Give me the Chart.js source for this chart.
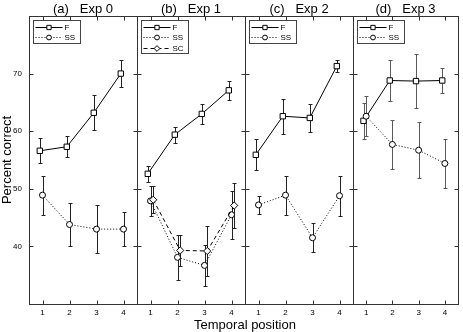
<!DOCTYPE html>
<html><head><meta charset="utf-8">
<script src="https://cdn.jsdelivr.net/npm/chart.js@4.4.1/dist/chart.umd.min.js"></script>
<style>
html,body{margin:0;padding:0;background:#fff;}
#wrap{position:relative;width:463px;height:332px;overflow:hidden;background:#fff;}
#wrap canvas{position:absolute;left:0;top:0;}
#xtitle{position:absolute;left:145px;width:200px;top:317px;text-align:center;font:13px "Liberation Sans",Arial,sans-serif;color:#000;line-height:16px;}
</style></head><body>
<div id="wrap">
<canvas id="c0" width="463" height="332"></canvas>
<canvas id="c1" width="463" height="332"></canvas>
<canvas id="c2" width="463" height="332"></canvas>
<canvas id="c3" width="463" height="332"></canvas>
<div id="xtitle">Temporal position</div>
</div>
<script>
// ---- data ----
const positions = [1, 2, 3, 4];
const yTickValues = [40, 50, 60, 70];
const panelTitles = ['(a)   Exp 0', '(b)   Exp 1', '(c)   Exp 2', '(d)   Exp 3'];
const seriesNames = ['F', 'SS', 'SC'];

const exp0F = [56.6, 57.3, 63.2, 70.0];
const exp0FErr = [2.2, 1.8, 3.05, 2.35];
const exp0SS = [48.9, 43.8, 43.0, 43.0];
const exp0SSErr = [3.4, 3.7, 4.2, 2.9];

const exp1F = [52.6, 59.4, 63.0, 67.1];
const exp1FErr = [1.4, 1.4, 1.8, 1.65];
const exp1SS = [47.9, 38.1, 36.7, 45.5];
const exp1SSErr = [2.6, 3.9, 3.5, 4.2];
const exp1SC = [48.1, 39.3, 39.2, 47.1];
const exp1SCErr = [2.3, 2.7, 4.4, 3.9];

const exp2F = [55.9, 62.6, 62.3, 71.3];
const exp2FErr = [2.7, 3.05, 2.5, 1.1];
const exp2SS = [47.2, 48.9, 41.5, 48.8];
const exp2SSErr = [1.5, 3.4, 2.5, 3.5];

const exp3F = [61.8, 68.8, 68.7, 68.8];
const exp3FErr = [3.1, 3.55, 4.75, 2.1];
const exp3SS = [62.6, 57.7, 56.7, 54.4];
const exp3SSErr = [3.5, 4.3, 4.85, 4.25];

// ---- style / layout ----
const FONT = '"Liberation Sans", Arial, Helvetica, sans-serif';
const offF = -0.1, offSS = 0, offSC = 0.1;
const W = 463, PANEL_L = 29, PANEL_W = 108;
const errColors = ['#222', '#222', '#222', '#5a5a5a'];

function pts(vals, off) { return positions.map((p, i) => ({x: p + off, y: vals[i]})); }
function dsF(v, e) {
  return {label: seriesNames[0], data: pts(v, offF), errors: e, borderColor: '#000', borderWidth: 1,
    pointStyle: 'rect', pointRadius: 3.8, pointBackgroundColor: '#fff', pointBorderColor: '#000',
    pointBorderWidth: 1, order: 2, tension: 0, fill: false};
}
function dsSS(v, e) {
  return {label: seriesNames[1], data: pts(v, offSS), errors: e, borderColor: '#000', borderWidth: 1,
    borderDash: [1, 2], pointStyle: 'circle', pointRadius: 3, pointBackgroundColor: '#fff', pointBorderColor: '#000',
    pointBorderWidth: 1, order: 1, tension: 0, fill: false};
}
function dsSC(v, e) {
  return {label: seriesNames[2], data: pts(v, offSC), errors: e, borderColor: '#000', borderWidth: 1,
    borderDash: [4, 3], pointStyle: 'rectRot', pointRadius: 3.6, pointBackgroundColor: '#fff', pointBorderColor: '#000',
    pointBorderWidth: 1, order: 0, tension: 0, fill: false};
}

const panels = [
  [dsF(exp0F, exp0FErr), dsSS(exp0SS, exp0SSErr)],
  [dsF(exp1F, exp1FErr), dsSS(exp1SS, exp1SSErr), dsSC(exp1SC, exp1SCErr)],
  [dsF(exp2F, exp2FErr), dsSS(exp2SS, exp2SSErr)],
  [dsF(exp3F, exp3FErr), dsSS(exp3SS, exp3SSErr)]
];

const errorBarPlugin = {
  id: 'errBars',
  beforeDatasetsDraw(chart) {
    const {ctx, scales: {x, y}} = chart;
    ctx.save();
    ctx.strokeStyle = chart.options.plugins.errBars.color;
    ctx.lineWidth = 1;
    ctx.setLineDash([]);
    chart.data.datasets.forEach(ds => {
      ds.data.forEach((p, i) => {
        const e = ds.errors[i];
        const px = Math.round(x.getPixelForValue(p.x)) + 0.5;
        const t = Math.round(y.getPixelForValue(p.y + e)) + 0.5;
        const b = Math.round(y.getPixelForValue(p.y - e)) + 0.5;
        ctx.beginPath();
        ctx.moveTo(px, t); ctx.lineTo(px, b);
        ctx.moveTo(px - 2, t); ctx.lineTo(px + 2, t);
        ctx.moveTo(px - 2, b); ctx.lineTo(px + 2, b);
        ctx.stroke();
      });
    });
    ctx.restore();
  }
};

const framePlugin = {
  id: 'frame',
  afterDatasetsDraw(chart) {
    const {ctx, chartArea: a, scales: {x, y}} = chart;
    ctx.save();
    ctx.strokeStyle = '#333'; ctx.lineWidth = 1; ctx.setLineDash([]);
    const L = Math.round(a.left) + 0.5, R = Math.round(a.right) + 0.5;
    const T = Math.round(a.top) + 0.5, B = Math.round(a.bottom) + 0.5;
    ctx.strokeRect(L, T, R - L, B - T);
    ctx.beginPath();
    yTickValues.forEach(v => {
      const py = Math.round(y.getPixelForValue(v)) + 0.5;
      ctx.moveTo(L, py); ctx.lineTo(L + 4, py);
      ctx.moveTo(R, py); ctx.lineTo(R - 4, py);
    });
    positions.forEach(v => {
      const px = Math.round(x.getPixelForValue(v)) + 0.5;
      ctx.moveTo(px, T); ctx.lineTo(px, T + 4);
      ctx.moveTo(px, B); ctx.lineTo(px, B - 4);
    });
    ctx.stroke();
    ctx.restore();
  }
};

const legendPlugin = {
  id: 'boxLegend',
  afterDraw(chart) {
    const {ctx, chartArea: a} = chart;
    const ds = chart.data.datasets;
    ctx.save();
    ctx.font = '8px ' + FONT;
    const tw = Math.max(...ds.map(d => ctx.measureText(d.label).width));
    const bx = Math.round(a.left) + 4.5, by = Math.round(a.top) + 4.5;
    const rowH = 10.6;
    const bw = Math.round(33 + tw + 3), bh = Math.round(ds.length * rowH + 1.5);
    ctx.fillStyle = '#fff'; ctx.fillRect(bx, by, bw, bh);
    ctx.strokeStyle = '#444'; ctx.lineWidth = 1; ctx.strokeRect(bx, by, bw, bh);
    ds.forEach((d, k) => {
      const cy = Math.round(by + 6 + k * rowH) + 0.5;
      ctx.strokeStyle = '#000';
      ctx.setLineDash(d.borderDash || []);
      ctx.beginPath(); ctx.moveTo(bx + 2, cy); ctx.lineTo(bx + 29, cy); ctx.stroke();
      ctx.setLineDash([]);
      ctx.fillStyle = '#fff'; ctx.strokeStyle = '#000';
      Chart.helpers.drawPoint(ctx, {pointStyle: d.pointStyle, radius: d.pointRadius * 0.8, borderWidth: 1, rotation: 0}, bx + 15.5, cy);
      ctx.fillStyle = '#000'; ctx.textBaseline = 'middle'; ctx.textAlign = 'left';
      ctx.fillText(d.label, bx + 31, cy);
    });
    ctx.restore();
  }
};

panels.forEach((datasets, i) => {
  const left = PANEL_L + PANEL_W * i;
  const right = left + PANEL_W;
  const isFirst = i === 0;
  new Chart(document.getElementById('c' + i), {
    type: 'line',
    data: {datasets},
    plugins: [errorBarPlugin, framePlugin, legendPlugin],
    options: {
      responsive: false, animation: false, devicePixelRatio: 1, events: [],
      layout: {padding: {left: isFirst ? 0 : left, right: W - right, top: 0, bottom: 0}},
      plugins: {
        legend: {display: false}, tooltip: {enabled: false},
        errBars: {color: errColors[i]},
        title: {display: true, text: panelTitles[i], fullSize: false, color: '#000',
          font: {family: FONT, size: 13, weight: 'normal', lineHeight: 1}, padding: {top: 3, bottom: 0}}
      },
      scales: {
        x: {
          type: 'linear', min: 0.5, max: 4.5,
          afterBuildTicks: s => { s.ticks = positions.map(v => ({value: v})); },
          afterFit: s => { s.height = 28; },
          grid: {display: false, drawTicks: false}, border: {display: false},
          ticks: {color: '#000', font: {family: FONT, size: 8}, padding: 4, maxRotation: 0, autoSkip: false,
            callback: v => String(v)}
        },
        y: {
          type: 'linear', min: 30, max: 80, display: isFirst,
          afterBuildTicks: s => { s.ticks = yTickValues.map(v => ({value: v})); },
          afterFit: s => { s.width = isFirst ? PANEL_L : 0; },
          grid: {display: false, drawTicks: false}, border: {display: false},
          ticks: {color: '#000', font: {family: FONT, size: 8}, padding: 7, callback: v => String(v)},
          title: {display: isFirst, text: 'Percent correct', color: '#000',
            font: {family: FONT, size: 13}, padding: {top: 0, bottom: 0}}
        }
      }
    }
  });
});
</script>
</body></html>
